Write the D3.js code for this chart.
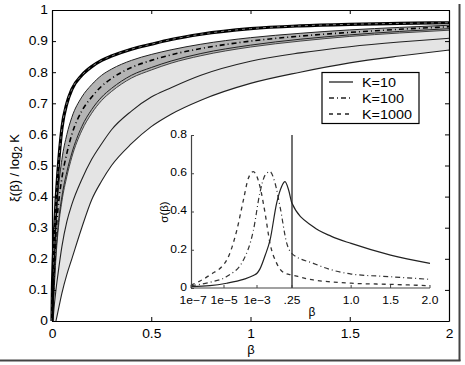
<!DOCTYPE html>
<html><head><meta charset="utf-8">
<script src="https://cdn.jsdelivr.net/npm/d3@7"></script>
<style>
html,body{margin:0;padding:0;background:#fff;}
svg text{font-family:"Liberation Sans",Arial,Helvetica,sans-serif;fill:#000;}
</style></head>
<body><svg id="c" width="465" height="365"></svg>
<script>
// ---------------- main plot data (xi(beta)/log2 K) ----------------
const betas   = [0,0.002,0.005,0.01,0.02,0.03,0.05,0.075,0.1,0.15,0.2,0.25,0.3,0.4,0.5,0.6,0.75,1.0,1.25,1.5,1.75,2.0];
const topK1000 = [0,0.10,0.17,0.25,0.38,0.48,0.62,0.70,0.745,0.79,0.818,0.838,0.852,0.874,0.89,0.905,0.922,0.94,0.949,0.954,0.957,0.959];
const bandHigh = [0,0.04,0.08,0.17,0.32,0.41,0.52,0.60,0.655,0.72,0.76,0.79,0.81,0.838,0.857,0.872,0.89,0.911,0.925,0.936,0.944,0.951];
const midK100  = [0,0.03,0.06,0.14,0.28,0.36,0.46,0.54,0.60,0.675,0.72,0.755,0.78,0.815,0.838,0.856,0.876,0.90,0.916,0.928,0.938,0.946];
const bandLow  = [0,0.02,0.04,0.10,0.22,0.30,0.40,0.48,0.54,0.625,0.68,0.72,0.748,0.79,0.815,0.836,0.86,0.887,0.906,0.92,0.931,0.94];
const bandLow2 = [0,0.015,0.035,0.09,0.205,0.285,0.385,0.465,0.527,0.612,0.668,0.709,0.738,0.781,0.807,0.829,0.853,0.881,0.90,0.915,0.926,0.935];
const solidK10a = [0,0,0,0.04,0.10,0.15,0.24,0.32,0.375,0.455,0.52,0.57,0.615,0.675,0.72,0.75,0.79,0.835,0.862,0.882,0.897,0.909];
const solidK10b = [0,0,0,0,0,0.03,0.09,0.15,0.20,0.30,0.39,0.45,0.50,0.57,0.625,0.665,0.71,0.764,0.80,0.83,0.852,0.871];
const xTicks = [0,0.5,1,1.5,2];
const xTickLabels = ["0","0.5","1","1.5","2"];
const yTicks = [0,0.1,0.2,0.3,0.4,0.5,0.6,0.7,0.8,0.9,1];
const yTickLabels = ["0","0.1","0.2","0.3","0.4","0.5","0.6","0.7","0.8","0.9","1"];
const legendNames = ["K=10","K=100","K=1000"];

// ---------------- inset data (sigma(beta)) ----------------
const insetBetaSolid = [1e-7,1.4e-6,1.46e-5,1.5e-4,6e-4,1e-3,1.6e-3,3.6e-3,7.8e-3,0.022,0.048,0.083,0.15,0.25,0.52,0.75,1.0,1.5,2.0];
const insetSolid     = [0.007,0.012,0.025,0.045,0.065,0.077,0.10,0.17,0.25,0.443,0.53,0.556,0.51,0.443,0.32,0.27,0.233,0.172,0.129];
const insetBetaDashDot = [1e-7,1.4e-6,1.46e-5,1.5e-4,6e-4,1.6e-3,3.6e-3,7.8e-3,0.017,0.038,0.11,0.25,0.52,0.75,1.0,1.5,2.0];
const insetDashDot     = [0.012,0.03,0.06,0.146,0.30,0.50,0.59,0.608,0.55,0.425,0.233,0.18,0.129,0.095,0.073,0.059,0.045];
const insetBetaDashed = [1e-7,1.4e-6,1.46e-5,5.9e-5,1.5e-4,3e-4,6e-4,1.6e-3,3.6e-3,7.8e-3,0.022,0.083,0.25,0.52,0.75,1.0,1.5,2.0];
const insetDashed     = [0.015,0.068,0.146,0.30,0.46,0.574,0.608,0.53,0.39,0.233,0.13,0.077,0.068,0.042,0.032,0.025,0.019,0.012];
const insetXTicks = [1e-7,1e-5,1e-3,0.25,1.0,1.5,2.0];
const insetXTickLabels = ["1e\u22127","1e\u22125","1e\u22123",".25","1.0","1.5","2.0"];
const insetYTicks = [0,0.2,0.4,0.6,0.8];
const insetYTickLabels = ["0","0.2","0.4","0.6","0.8"];
const cutBeta = 0.25;

const SX = 1.15; // horizontal text stretch
const svg = d3.select("#c");

// frame shadow
svg.append("line").attr("x1",459.5).attr("x2",459.5).attr("y1",4).attr("y2",361).attr("stroke","#444").attr("stroke-width",2);
svg.append("line").attr("x1",0).attr("x2",460.5).attr("y1",360.5).attr("y2",360.5).attr("stroke","#444").attr("stroke-width",2);

const x = d3.scaleLinear().domain([0,2]).range([52,449]);
const y = d3.scaleLinear().domain([0,1]).range([321,10]);

function series(vals){ return betas.map((b,i)=>({b, v:vals[i]})); }
function trimmed(vals){
  const s = series(vals);
  return s.filter((d,i)=> d.v>0 || (i+1<s.length && s[i+1].v>0));
}
const line = d3.line().x(d=>x(d.b)).y(d=>y(d.v)).curve(d3.curveMonotoneX);

// fills
const areaLight = d3.area().x((d,i)=>x(betas[i])).y0((d,i)=>y(solidK10b[i])).y1((d,i)=>y(bandLow[i])).curve(d3.curveMonotoneX);
svg.append("path").attr("d", areaLight(betas)).attr("fill","#e4e4e4");
const areaDark = d3.area().x((d,i)=>x(betas[i])).y0((d,i)=>y(bandLow2[i])).y1((d,i)=>y(bandHigh[i])).curve(d3.curveMonotoneX);
svg.append("path").attr("d", areaDark(betas)).attr("fill","#b4b4b4");

// curves
const g = svg.append("g").attr("fill","none");
g.append("path").attr("d", line(trimmed(solidK10b))).attr("stroke","#222").attr("stroke-width",1.1);
g.append("path").attr("d", line(trimmed(solidK10a))).attr("stroke","#222").attr("stroke-width",1.1);
g.append("path").attr("d", line(series(bandLow2))).attr("stroke","#333").attr("stroke-width",0.9);
g.append("path").attr("d", line(series(bandLow))).attr("stroke","#222").attr("stroke-width",1);
g.append("path").attr("d", line(series(bandHigh))).attr("stroke","#222").attr("stroke-width",1);
g.append("path").attr("d", line(series(midK100))).attr("stroke","#000").attr("stroke-width",1.6).attr("stroke-dasharray","5,3,1,3");
g.append("path").attr("d", line(series(topK1000))).attr("stroke","#000").attr("stroke-width",3.2);
g.append("path").attr("d", line(series(topK1000))).attr("stroke","#8a8a8a").attr("stroke-width",0.9).attr("stroke-dasharray","3,4");

// axes (box with inward ticks)
function styleAxis(sel){
  sel.select(".domain").attr("stroke","#000").attr("stroke-width",1.2);
  sel.selectAll(".tick line").attr("stroke","#000");
  sel.selectAll("text").attr("font-size",12).style("font-family","'Liberation Sans',Arial,sans-serif");
}
const ax = svg.append("g").attr("transform","translate(0,321)")
  .call(d3.axisBottom(x).tickValues(xTicks).tickFormat((d,i)=>xTickLabels[i]).tickSizeInner(-4).tickSizeOuter(0).tickPadding(8));
styleAxis(ax);
ax.selectAll(".tick text").attr("transform",`scale(${SX},1)`).attr("x",0);

const axTop = svg.append("g").attr("transform","translate(0,10)")
  .call(d3.axisTop(x).tickValues(xTicks).tickFormat("").tickSizeInner(-4).tickSizeOuter(0));
styleAxis(axTop);
const ay = svg.append("g").attr("transform","translate(52,0)")
  .call(d3.axisLeft(y).tickValues(yTicks).tickFormat((d,i)=>yTickLabels[i]).tickSizeInner(-4).tickSizeOuter(0).tickPadding(4));
styleAxis(ay);
ay.selectAll(".tick text").attr("transform",`scale(${SX},1)`).attr("x",-4/SX);
const ayR = svg.append("g").attr("transform","translate(449,0)")
  .call(d3.axisRight(y).tickValues(yTicks).tickFormat("").tickSizeInner(-4).tickSizeOuter(0));
styleAxis(ayR);

// axis labels
svg.append("text").attr("x",251).attr("y",354).attr("text-anchor","middle").attr("font-size",13).text("\u03b2");
const yl = svg.append("text").attr("transform","translate(19,168) rotate(-90)").attr("text-anchor","middle").attr("font-size",13);
yl.append("tspan").text("\u03be(\u03b2) / log");
yl.append("tspan").attr("dy",3).attr("font-size",10).text("2");
yl.append("tspan").attr("dy",-3).text(" K");

// legend
const lg = svg.append("g").attr("transform","translate(322,72.5)");
lg.append("rect").attr("width",97).attr("height",51).attr("fill","#fff").attr("stroke","#000").attr("stroke-width",1.2);
const dashes = [null,"5,3,1,3","4,4"];
legendNames.forEach((name,i)=>{
  const yy = 9.5 + i*16;
  lg.append("line").attr("x1",7).attr("x2",31).attr("y1",yy).attr("y2",yy).attr("stroke","#222").attr("stroke-width",1.3).attr("stroke-dasharray",dashes[i]);
  lg.append("text").attr("transform",`translate(40,${yy+4.5}) scale(${SX},1)`).attr("font-size",12.5).text(name);
});

// ---------------- inset ----------------
const ixLog = d3.scaleLinear().domain([-7,-5,-3,Math.log10(cutBeta)]).range([191,224,257,292]);
const ixLin = d3.scaleLinear().domain([cutBeta,2]).range([292,430]);
const ix = b => b<=cutBeta ? ixLog(Math.log10(b)) : ixLin(b);
const iy = d3.scaleLinear().domain([0,0.8]).range([288,135]);
const iline = d3.line().x(d=>ix(d[0])).y(d=>iy(d[1])).curve(d3.curveMonotoneX);
const ins = svg.append("g");

// vertical marker at beta = .25
ins.append("line").attr("x1",ix(cutBeta)).attr("x2",ix(cutBeta)).attr("y1",iy(0)).attr("y2",iy(0.8)).attr("stroke","#444").attr("stroke-width",1.5);

const zipS = (bs,vs)=>bs.map((b,i)=>[b,vs[i]]);
ins.append("path").attr("d",iline(zipS(insetBetaDashed,insetDashed))).attr("fill","none").attr("stroke","#333").attr("stroke-width",1.3).attr("stroke-dasharray","4,4");
ins.append("path").attr("d",iline(zipS(insetBetaDashDot,insetDashDot))).attr("fill","none").attr("stroke","#333").attr("stroke-width",1.2).attr("stroke-dasharray","5,3,1,3");
ins.append("path").attr("d",iline(zipS(insetBetaSolid,insetSolid))).attr("fill","none").attr("stroke","#222").attr("stroke-width",1.2);

const iay = ins.append("g").attr("transform",`translate(${ix(1e-7)},0)`)
  .call(d3.axisLeft(iy).tickValues(insetYTicks).tickFormat((d,i)=>insetYTickLabels[i]).tickSizeInner(-3).tickSizeOuter(0).tickPadding(4));
iay.select(".domain").attr("stroke","#444").attr("stroke-width",1.2);
iay.selectAll(".tick line").attr("stroke","#444");
iay.selectAll(".tick text").attr("font-size",10.5).attr("transform",`scale(${SX},1)`).attr("x",-4/SX).attr("dy","0.22em");

ins.append("line").attr("x1",ix(1e-7)).attr("x2",ix(2)).attr("y1",iy(0)).attr("y2",iy(0)).attr("stroke","#444").attr("stroke-width",1.2);
insetXTicks.forEach((t,i)=>{
  ins.append("line").attr("x1",ix(t)).attr("x2",ix(t)).attr("y1",iy(0)).attr("y2",iy(0)-3).attr("stroke","#444");
  ins.append("text").attr("transform",`translate(${ix(t)+(i===0?2:0)},304) scale(${SX},1)`).attr("text-anchor","middle").attr("font-size",10.5).text(insetXTickLabels[i]);
});
ins.append("text").attr("x",312).attr("y",316).attr("text-anchor","middle").attr("font-size",12).text("\u03b2");
ins.append("text").attr("transform","translate(168,212) rotate(-90)").attr("text-anchor","middle").attr("font-size",11.5).text("\u03c3(\u03b2)");
</script></body></html>
